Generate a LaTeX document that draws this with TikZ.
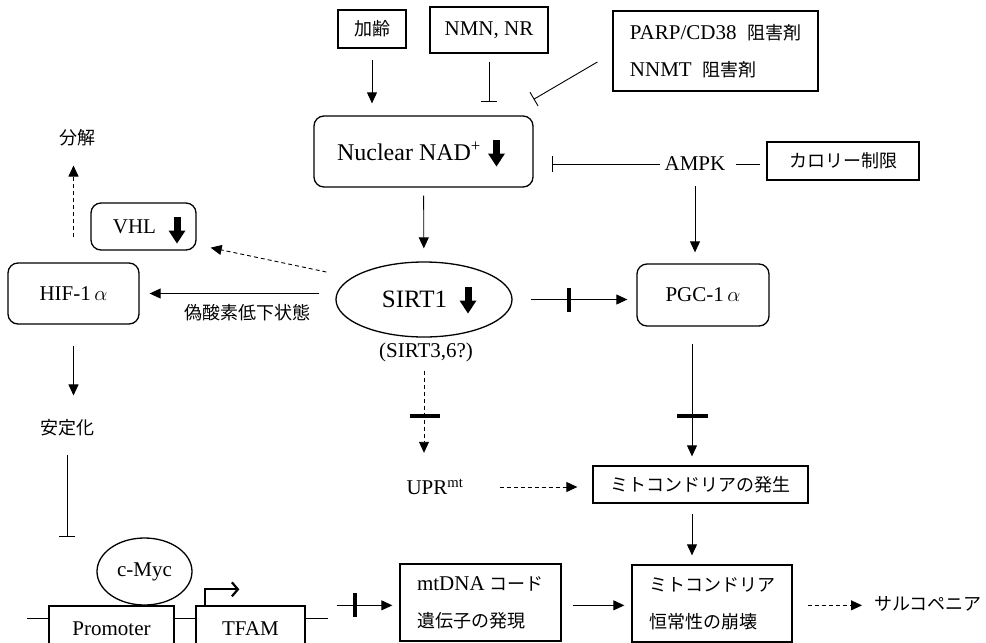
\documentclass[tikz,border=0pt]{standalone}
\usepackage{fontspec}
\setmainfont{Liberation Serif}
\newfontfamily\jp{Noto Sans CJK JP}
\usetikzlibrary{arrows.meta,calc,shapes.geometric}
\begin{document}
\begin{tikzpicture}[x=1pt,y=-1pt,
  every node/.style={font=\fontsize{21}{25}\selectfont, inner sep=0pt},
  box/.style={draw, line width=1.3pt, inner sep=0pt},
  rbox/.style={box, rounded corners=10pt},
  arr/.style={line width=0.9pt, -{Triangle[length=11pt,width=10pt]}},
  darr/.style={arr, dash pattern=on 4pt off 3pt},
  inh/.style={line width=0.9pt, -{Bar[width=16pt]}},
  tbar/.style={line width=4pt},
  jpt/.style={font=\fontsize{18}{22}\selectfont\jp},
  bigdown/.pic={\fill (-3.5,-13) rectangle (3.5,2); \fill (-8.5,1) -- (8.5,1) -- (0,14) -- cycle;}
]
\useasboundingbox (0,0) rectangle (986,643);
\clip (0,0) rectangle (986,643);

% nodes
\node[box, minimum width=68pt, minimum height=38pt, jpt] (age) at (372,29) {加齢};
\node[box, minimum width=118pt, minimum height=46pt] (nmn) at (489,30) {NMN, NR};
\node[box, minimum width=205pt, minimum height=80pt, align=left, font=\fontsize{21}{37}\selectfont] (parp) at (715.5,51)
  {PARP/CD38\ \ {\jp\fontsize{18}{37}\selectfont 阻害剤}\\NNMT\ \ {\jp\fontsize{18}{37}\selectfont 阻害剤}};
\node[rbox, minimum width=219pt, minimum height=71pt, font=\fontsize{24}{30}\selectfont] (nad) at (423.5,151.5) {Nuclear NAD\textsuperscript{+}\hspace{29pt}\mbox{}};
\pic at ($(nad.center)+(73,1)$) {bigdown};
\node (ampk) at (695,164) {AMPK};
\node[box, minimum width=152pt, minimum height=38pt, jpt] (cal) at (843,161) {カロリー制限};
\node[rbox, minimum width=132pt, minimum height=62pt] (pgc) at (703,295) {PGC-1\,$\alpha$};
\node[draw, ellipse, line width=1.3pt, minimum width=176pt, minimum height=75pt, font=\fontsize{25}{28}\selectfont] (sirt) at (424,299.5) {SIRT1\hspace{19pt}\mbox{}};
\pic at ($(sirt.center)+(44,0)$) {bigdown};
\node[rbox, minimum width=131pt, minimum height=61pt] (hif) at (73.5,293.5) {HIF-1\,$\alpha$};
\node[rbox, minimum width=105pt, minimum height=47pt] (vhl) at (143.5,226.5) {VHL\hspace{18pt}\mbox{}};
\pic at ($(vhl.center)+(33.5,3)$) {bigdown};
\node[jpt] (bunkai) at (77,138) {分解};
\node[jpt] (stab) at (67,428) {安定化};
\node[jpt] (hyp) at (247,313) {偽酸素低下状態};
\node (s36) at (426,352) {(SIRT3,6?)};
\node (upr) at (435,487) {UPR\textsuperscript{mt}};
\node[box, minimum width=215pt, minimum height=37pt, jpt] (hassei) at (700.5,484.5) {ミトコンドリアの発生};
\node[box, minimum width=161pt, minimum height=77pt, align=left, font=\fontsize{21}{37}\selectfont] (mtdna) at (480.5,602.5)
  {mtDNA {\jp\fontsize{18}{37}\selectfont コード}\\{\jp\fontsize{18}{37}\selectfont 遺伝子の発現}};
\node[box, minimum width=160pt, minimum height=77pt, align=left, font=\fontsize{18}{37}\selectfont\jp] (kojo) at (712,603.5) {ミトコンドリア\\恒常性の崩壊};
\node[jpt, anchor=west] (sarco) at (874,604) {サルコペニア};
\node[draw, ellipse, line width=1.3pt, minimum width=95pt, minimum height=67pt] (myc) at (144.5,571.5) {c-Myc};
\node[box, minimum width=125pt, minimum height=46pt] (prom) at (111.5,629) {Promoter};
\node[box, minimum width=109pt, minimum height=46pt] (tfam) at (250.5,629) {TFAM};

% DNA line
\coordinate (dnaL) at (27,618);
\coordinate (dnaR) at (328,618);
\draw[line width=1pt] (dnaL) -- (prom.west |- dnaL) (prom.east |- dnaL) -- (tfam.west |- dnaL) (tfam.east |- dnaL) -- (dnaR);
% transcription start
\draw[line width=2.2pt, -{Straight Barb[length=6pt,width=14pt]}] ($(tfam.north west)+(10,0)$) |- ++(34,-16);

% connectors
\draw[arr, shorten <=11pt, shorten >=12pt] (age) -- (age |- nad.north);
\draw[inh, shorten <=8pt, shorten >=13pt] (nmn) -- (nmn |- nad.north);
\draw[inh] ($(parp.west)+(-15,11)$) -- ($(nad.north east)+(0,-16)$);
\draw[inh, shorten <=4pt, shorten >=18pt] (ampk.west) -- (ampk.west -| nad.east);
\draw[line width=0.9pt, shorten <=10pt, shorten >=6pt] (ampk.east) -- (ampk.east -| cal.west);
\draw[arr, shorten <=15pt, shorten >=11pt] (ampk) -- (ampk |- pgc.north);
\draw[arr, shorten <=8pt, shorten >=13pt] (nad) -- (sirt);
\draw[arr, shorten <=18pt, shorten >=9pt] (sirt.east) -- (sirt.east -| pgc.west);
\draw[tbar] ($(sirt.east)+(56,-12)$) -- ++(0,24);
\draw[arr, shorten <=16pt, shorten >=10pt] (sirt.west |- hif) -- (hif.east);
\draw[darr] ($(sirt.west)+(-9,-27.5)$) -- ($(vhl.south east)+(14,-3)$);
\draw[darr, shorten <=25pt, shorten >=19pt] (hif) -- (hif |- bunkai.south);
\draw[arr, shorten <=21pt, shorten >=24pt] (hif) -- (hif |- stab.north);
\draw[inh, shorten <=18pt] (stab) -- (stab |- myc.north);
\draw[arr, shorten >=7pt] ($(tfam.north east)+(31,0)$) -- (mtdna.west |- tfam.north);
\draw[tbar] ($(tfam.north east)+(49,-12)$) -- ++(0,24);
\draw[arr, shorten <=11pt, shorten >=7pt] (mtdna.east |- tfam.north) -- (kojo.west |- tfam.north);
\draw[darr, shorten <=15pt, shorten >=12pt] (kojo.east |- tfam.north) -- (sarco.west |- tfam.north);
\draw[arr, shorten <=17pt, shorten >=9pt] ($(pgc.south)+(-11,0)$) -- ($(hassei.north)+(-8.5,0)$);
\draw[tbar] ($(pgc.south)+(-26,89)$) -- ++(31,0);
\draw[arr, shorten <=10pt, shorten >=9pt] ($(hassei.south)+(-8.5,0)$) -- ($(kojo.north)+(-20,0)$);
\draw[darr, shorten <=36pt, shorten >=15pt] (upr.east) -- (upr.east -| hassei.west);
\draw[darr, shorten <=33pt, shorten >=26pt] (sirt.south) -- (sirt.south |- upr.north);
\draw[tbar] ($(sirt.south)+(-14,78)$) -- ++(30,0);
\end{tikzpicture}
\end{document}
